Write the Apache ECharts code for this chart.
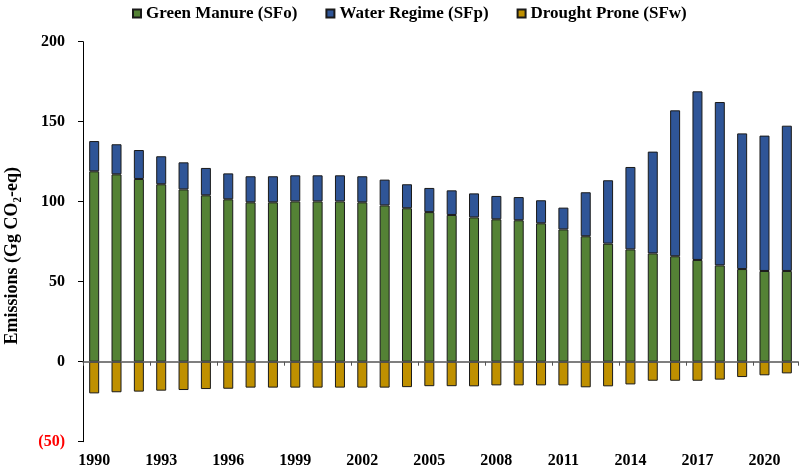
<!DOCTYPE html>
<html>
<head>
<meta charset="utf-8">
<script src="https://cdn.jsdelivr.net/npm/echarts@6/dist/echarts.min.js"></script>
<style>html,body{margin:0;padding:0;background:#fff}#c{width:800px;height:467px}</style>
</head>
<body>
<div id="c"></div>
<script>
var years = ['1990','1991','1992','1993','1994','1995','1996','1997','1998','1999','2000','2001','2002','2003','2004','2005','2006','2007','2008','2009','2010','2011','2012','2013','2014','2015','2016','2017','2018','2019','2020','2021'];
var greenManure = [119.0,117.1,114.2,110.9,107.7,104.0,101.5,99.6,99.6,100.2,100.2,100.2,99.6,97.7,95.9,93.5,91.7,90.2,89.0,88.4,86.5,82.7,78.4,73.8,70.2,67.7,65.9,63.6,60.2,57.9,56.7,56.7];
var waterRegime = [18.9,18.8,18.1,17.5,16.9,17.1,16.2,16.3,16.3,16.3,16.3,16.3,16.3,16.1,15.0,15.1,15.4,15.0,14.6,14.5,14.4,13.6,27.5,39.6,51.5,63.6,91.2,105.4,102.1,84.8,84.6,90.8];
var droughtProne = [-19.8,-19.1,-18.7,-18.1,-17.7,-17.1,-16.9,-16.2,-16.2,-16.2,-16.2,-16.2,-16.2,-16.2,-15.9,-15.3,-15.3,-15.4,-14.8,-14.8,-14.8,-14.8,-16.0,-15.4,-14.2,-11.9,-11.9,-11.9,-11.2,-9.6,-8.5,-7.3];
var seriesNames = ['Green Manure (SFo)','Water Regime (SFp)','Drought Prone (SFw)'];
var colors = ['#548235','#2F5597','#BF9000'];

var font = 'Liberation Serif';
var chart = echarts.init(document.getElementById('c'));
function bar(name, data, color) {
  return {
    name: name, type: 'bar', stack: 'total', data: data, barWidth: 10, xAxisIndex: 0,
    itemStyle: { color: color, borderColor: '#1a1a1a', borderWidth: 1 }
  };
}
chart.setOption({
  animation: false,
  color: colors,
  legend: {
    top: 0, left: 127, itemWidth: 8, itemHeight: 8, itemGap: 28, icon: 'rect',
    textStyle: { fontFamily: font, fontWeight: 'bold', fontSize: 17, color: '#000' },
    data: seriesNames
  },
  grid: { left: 83, right: 2, top: 41.7, bottom: 25.3, containLabel: false, outerBoundsMode: 'none' },
  xAxis: [{
    type: 'category', data: years, z: 5, position: 'bottom',
    axisLine: { onZero: true, lineStyle: { color: '#555', width: 1.5 } },
    axisTick: { show: true, interval: 2, length: 4, lineStyle: { color: '#555' } },
    axisLabel: { show: false }
  }, {
    type: 'category', data: years, position: 'bottom', offset: 0,
    axisLine: { show: false, onZero: false },
    axisTick: { show: false },
    axisLabel: { interval: 2, margin: 11, fontFamily: font, fontWeight: 'bold', fontSize: 16, color: '#000' }
  }],
  yAxis: {
    type: 'value', min: -50, max: 200, interval: 50,
    name: 'Emissions (Gg CO\u2082-eq)', nameLocation: 'middle', nameGap: 62, nameRotate: 90,
    nameTextStyle: { fontFamily: font, fontWeight: 'bold', fontSize: 18, color: '#000', padding: [0, 28, 0, 0] },
    axisLine: { show: true, lineStyle: { color: '#000', width: 1 } },
    axisTick: { show: true, length: 5, lineStyle: { color: '#000' } },
    splitLine: { show: false },
    axisLabel: {
      margin: 18, fontFamily: font, fontWeight: 'bold', fontSize: 16, color: '#000',
      formatter: function (v) { return v < 0 ? '{neg|(' + Math.abs(v) + ')}' : String(v); },
      rich: { neg: { color: '#FF0000', fontFamily: font, fontWeight: 'bold', fontSize: 16 } }
    }
  },
  series: [
    bar(seriesNames[0], greenManure, colors[0]),
    bar(seriesNames[1], waterRegime, colors[1]),
    bar(seriesNames[2], droughtProne, colors[2])
  ]
});
</script>
</body>
</html>
